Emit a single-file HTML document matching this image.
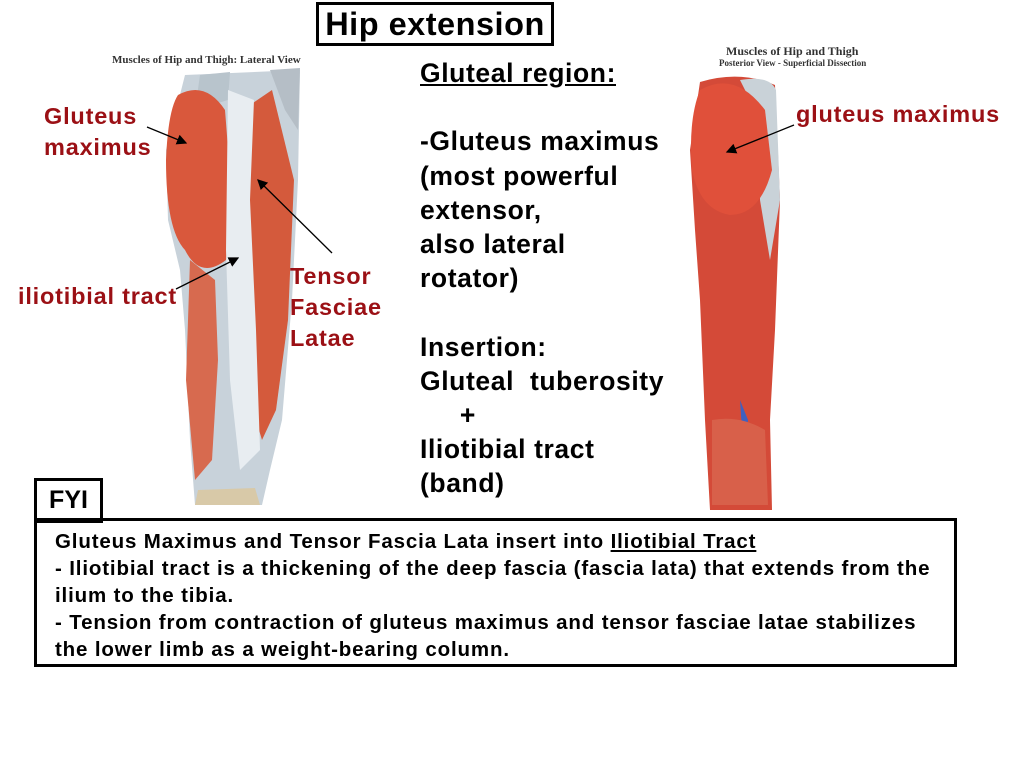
<!DOCTYPE html>
<html><head><meta charset="utf-8"><style>
body{margin:0;width:1024px;height:768px;background:#fff;position:relative;overflow:hidden;font-family:"Liberation Sans",Arial,sans-serif;font-weight:bold}
.a{position:absolute}
.red{color:#9b1015;font-size:23.5px;letter-spacing:0.8px;line-height:31px}
.mid{font-size:26.5px;letter-spacing:0.6px;line-height:34.2px;color:#000}
</style></head><body>
<svg class="a" style="left:0;top:0" width="1024" height="768">
<defs><marker id="ar" markerWidth="8" markerHeight="8" refX="7" refY="4" orient="auto"><path d="M0,0L8,4L0,8z" fill="#000"/></marker></defs>
<path d="M185,75 L300,70 L298,180 L292,300 L282,420 L270,470 L262,505 L195,505 L190,440 L185,330 L180,270 L168,220 L166,150 Z" fill="#c8d2da"/>
<path d="M200,75 L230,72 L228,100 L195,110 Z" fill="#b8c4cc"/>
<path d="M178,95 Q205,80 225,110 L232,200 L226,260 Q200,280 185,250 Q166,230 166,160 Q168,110 178,95Z" fill="#d9583c"/>
<path d="M250,105 L272,90 L294,180 L288,320 L276,410 L262,440 L250,400 L246,300 Z" fill="#d45a3c"/>
<path d="M190,260 L215,280 L218,360 L212,460 L195,480 L186,380 Z" fill="#d76a4f"/>
<path d="M228,90 L254,100 L250,200 L256,330 L260,450 L240,470 L230,380 L226,250 Z" fill="#e8edf1"/>
<path d="M198,490 L255,488 L260,505 L195,505Z" fill="#d8c9a8"/>
<path d="M270,70 L300,68 L298,130 L285,110Z" fill="#b5bec6"/>
<path d="M700,82 Q740,70 775,85 L780,200 L775,330 L770,420 L772,510 L710,510 L705,420 L700,300 L695,230 L690,150 Z" fill="#d44a38"/>
<path d="M740,80 Q770,75 776,90 L780,200 L770,260 L760,200 L760,120Z" fill="#c9d2d8"/>
<path d="M700,90 Q735,70 765,110 L772,170 Q760,215 730,215 Q700,210 692,170 Q688,120 700,90Z" fill="#e0503a"/>
<path d="M740,400 L748,420 L744,460Z" fill="#4060c0"/>
<path d="M712,420 Q740,415 765,430 L768,505 L712,505Z" fill="#d8604a"/>
<line x1="147" y1="127" x2="186" y2="143" stroke="#000" stroke-width="1.3" marker-end="url(#ar)"/>
<line x1="176" y1="289" x2="238" y2="258" stroke="#000" stroke-width="1.3" marker-end="url(#ar)"/>
<line x1="332" y1="253" x2="258" y2="180" stroke="#000" stroke-width="1.3" marker-end="url(#ar)"/>
<line x1="794" y1="125" x2="727" y2="152" stroke="#000" stroke-width="1.3" marker-end="url(#ar)"/>
</svg>
<div class="a" style="left:112px;top:54px;font-family:'Liberation Serif',serif;font-size:11px;color:#333">Muscles of Hip and Thigh: Lateral View</div>
<div class="a" style="left:726px;top:44px;font-family:'Liberation Serif',serif;font-size:12px;color:#333">Muscles of Hip and Thigh</div>
<div class="a" style="left:719px;top:58px;font-family:'Liberation Serif',serif;font-size:9px;color:#333">Posterior View - Superficial Dissection</div>
<div class="a" style="left:316px;top:2px;width:232px;height:38px;border:3px solid #000;font-size:32.5px;letter-spacing:0.5px;line-height:38px;text-align:center;white-space:nowrap">Hip extension</div>
<div class="a red" style="left:44px;top:101px">Gluteus<br>maximus</div>
<div class="a red" style="left:18px;top:281px;white-space:nowrap">iliotibial tract</div>
<div class="a red" style="left:290px;top:261px">Tensor<br>Fasciae<br>Latae</div>
<div class="a red" style="left:796px;top:99px;white-space:nowrap">gluteus maximus</div>
<div class="a mid" style="left:420px;top:56px;white-space:nowrap"><u>Gluteal region:</u><br><br>-Gluteus maximus<br>(most powerful<br>extensor,<br>also lateral<br>rotator)<br><br>Insertion:<br>Gluteal&nbsp; tuberosity<br>&nbsp;&nbsp;&nbsp;&nbsp; +<br>Iliotibial tract<br>(band)</div>
<div class="a" style="left:34px;top:478px;width:63px;height:39px;border:3px solid #000;font-size:25px;line-height:39px;text-align:center">FYI</div>
<div class="a" style="left:34px;top:518px;width:917px;height:143px;border:3px solid #000"></div>
<div class="a" style="left:55px;top:528px;font-size:20.5px;letter-spacing:0.85px;line-height:27px;width:900px;white-space:nowrap">Gluteus Maximus and Tensor Fascia Lata insert into <u>Iliotibial Tract</u><br>- Iliotibial tract is a thickening of the deep fascia (fascia lata) that extends from the<br>ilium to the tibia.<br>- Tension from contraction of gluteus maximus and tensor fasciae latae stabilizes<br>the lower limb as a weight-bearing column.</div>
</body></html>
